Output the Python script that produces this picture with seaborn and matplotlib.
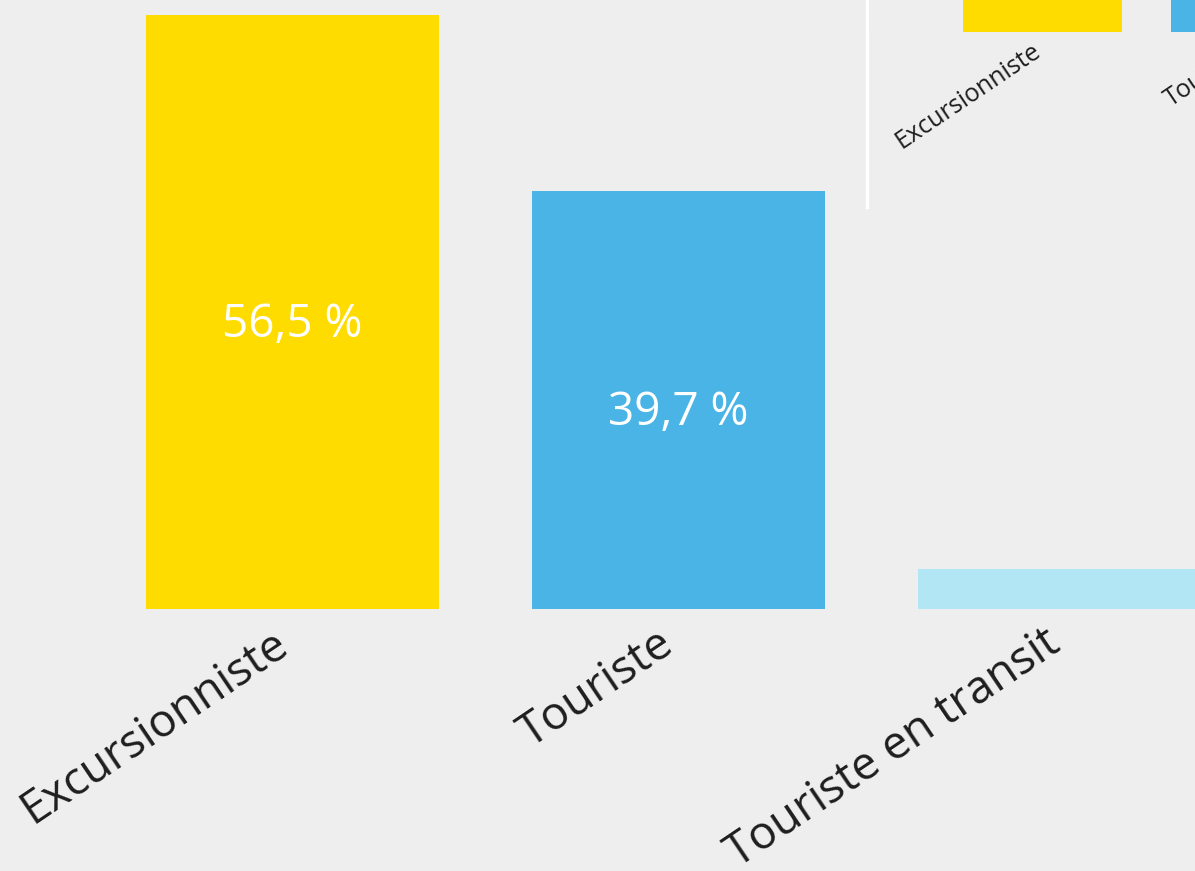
import matplotlib
matplotlib.use("Agg")
import matplotlib.pyplot as plt
import matplotlib.transforms as mtransforms
import seaborn as sns
import pandas as pd

# values (share of visitors, %)
categories = ["Excursionniste", "Touriste", "Touriste en transit"]
shares = [56.5, 39.7, 3.8]
colors = ["#FFDC00", "#4BB4E6", "#B3E6F5"]
show_label = [True, True, False]

BG = "#eeeeee"
TXT = "#1e1e1e"

sns.set_theme(style="white")
plt.rcParams["font.family"] = ["Open Sans", "DejaVu Sans"]

df = pd.DataFrame({"cat": categories, "share": shares})

W, H = 1195, 871
fig = plt.figure(figsize=(W / 100, H / 100), dpi=100, facecolor=BG)


def px_axes(left, top, width, height):
    # axes placed from pixel box (origin top-left)
    return fig.add_axes([left / W, (H - top - height) / H, width / W, height / H])


def bar_panel(ax, x0_px, unit_px, base_px, px_per_pct, font, pad, shift):
    sns.barplot(data=df, x="cat", y="share", hue="cat", palette=colors,
                width=0.76, legend=False, ax=ax, saturation=1, linewidth=0)
    ax.set_facecolor(BG)
    l, b, w, h = ax.get_position().bounds
    ax.set_xlim(-x0_px / unit_px, -x0_px / unit_px + w * W / unit_px)
    ax.set_ylim(0, base_px / px_per_pct)
    for s in ax.spines.values():
        s.set_visible(False)
    ax.set_yticks([])
    ax.set_xlabel("")
    ax.set_ylabel("")
    ax.set_xticks(range(len(categories)))
    ax.set_xticklabels(categories, rotation=34, ha="right", va="center",
                       rotation_mode="anchor", fontsize=font, color=TXT)
    ax.tick_params(axis="x", length=0, pad=pad)
    off = mtransforms.ScaledTranslation(shift / 100, 0, fig.dpi_scale_trans)
    for lab in ax.get_xticklabels():
        lab.set_transform(lab.get_transform() + off)


# main chart
ax = px_axes(0, 0, W, 609)
bar_panel(ax, 292.5, 386, 609, 10.52, 33, 22, -9)
for i, (v, show) in enumerate(zip(shares, show_label)):
    if show:
        ax.annotate(f"{v:.1f}".replace(".", ",") + " %", (i, v / 2),
                    xytext=(0, -18), textcoords="offset points",
                    ha="center", va="baseline", color="white", fontsize=33)

# small copy of the visual in the top right corner
frame = px_axes(867, 0, 400, 207)
frame.set_facecolor("none")
frame.set_xticks([])
frame.set_yticks([])
for name, s in frame.spines.items():
    s.set_visible(name == "left")
frame.spines["left"].set_color("white")
frame.spines["left"].set_linewidth(2.5)

ax2 = px_axes(869, 0, 700, 32)
bar_panel(ax2, 1042.5 - 869, 208, 32, 10.52 * 208 / 386, 18, 12, -4)

fig.savefig("out.png", dpi=100, facecolor=BG)
